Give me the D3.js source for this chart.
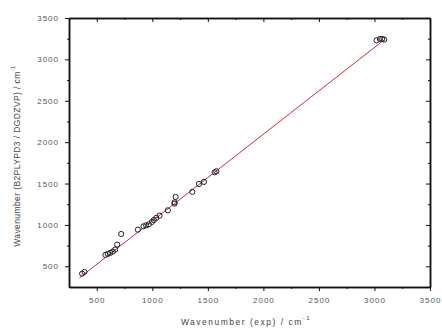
<!DOCTYPE html>
<html>
<head>
<meta charset="utf-8">
<script src="https://cdn.jsdelivr.net/npm/d3@7"></script>
<style>
    body { margin: 0; background: #fff; }
    svg { display: block; font-family: Arial, "Liberation Sans", sans-serif; }
    .tick text { fill: #555; font-size: 8px; letter-spacing: 1px; }
    .domain, .tick line { stroke: #111; }
    .title { fill: #444; font-size: 8.5px; letter-spacing: 1.5px; }
</style>
</head>
<body>
<svg id="chart"></svg>
<script>
const expWn = [368, 389, 578, 599, 621, 644, 666, 684, 720, 870, 921, 945, 969, 996, 1014, 1036, 1065,
    1140, 1200, 1210, 1200, 1360, 1420, 1465, 1561, 1577, 3019, 3049, 3070, 3088];
const calcWn = [412, 432, 638, 650, 662, 678, 702, 762, 891, 943, 983, 995, 1007, 1036, 1060, 1085, 1112,
    1176, 1257, 1338, 1273, 1399, 1495, 1520, 1636, 1648, 3230, 3247, 3247, 3239];

// linear fit (red line) end points
const fitX = [345, 3090];
const fitY = [362, 3238];

const majorTicks = [500, 1000, 1500, 2000, 2500, 3000, 3500];
const minorTicks = [750, 1250, 1750, 2250, 2750, 3250];

const W = 442, H = 331;
const m = { left: 69, right: 12, top: 18, bottom: 44 };

const svg = d3.select("#chart").attr("width", W).attr("height", H);

const x = d3.scaleLinear().domain([250, 3500]).range([m.left, W - m.right]);
const y = d3.scaleLinear().domain([250, 3500]).range([H - m.bottom, m.top]);
const fmt = d3.format("d");

// bottom + left: ticks outward with labels
svg.append("g")
    .attr("transform", "translate(0," + (H - m.bottom) + ")")
    .call(d3.axisBottom(x).tickValues(majorTicks).tickFormat(fmt).tickSize(4).tickPadding(6).tickSizeOuter(0));
svg.append("g")
    .attr("transform", "translate(0," + (H - m.bottom) + ")")
    .call(d3.axisBottom(x).tickValues(minorTicks).tickSize(2).tickFormat("").tickSizeOuter(0));
svg.append("g")
    .attr("transform", "translate(" + m.left + ",0)")
    .call(d3.axisLeft(y).tickValues(majorTicks).tickFormat(fmt).tickSize(4).tickPadding(6).tickSizeOuter(0));
svg.append("g")
    .attr("transform", "translate(" + m.left + ",0)")
    .call(d3.axisLeft(y).tickValues(minorTicks).tickSize(2).tickFormat("").tickSizeOuter(0));

// top + right: ticks inward, no labels
svg.append("g")
    .attr("transform", "translate(0," + m.top + ")")
    .call(d3.axisBottom(x).tickValues(majorTicks).tickSize(4).tickFormat("").tickSizeOuter(0));
svg.append("g")
    .attr("transform", "translate(0," + m.top + ")")
    .call(d3.axisBottom(x).tickValues(minorTicks).tickSize(2).tickFormat("").tickSizeOuter(0));
svg.append("g")
    .attr("transform", "translate(" + (W - m.right) + ",0)")
    .call(d3.axisLeft(y).tickValues(majorTicks).tickSize(4).tickFormat("").tickSizeOuter(0));
svg.append("g")
    .attr("transform", "translate(" + (W - m.right) + ",0)")
    .call(d3.axisLeft(y).tickValues(minorTicks).tickSize(2).tickFormat("").tickSizeOuter(0));

svg.selectAll(".domain").attr("stroke-width", 1.5);

// fit line
svg.append("line")
    .attr("x1", x(fitX[0])).attr("y1", y(fitY[0]))
    .attr("x2", x(fitX[1])).attr("y2", y(fitY[1]))
    .attr("stroke", "#d0283a")
    .attr("stroke-width", 1);

// data points
svg.selectAll("circle.pt")
    .data(expWn.map((d, i) => [d, calcWn[i]]))
    .join("circle")
    .attr("class", "pt")
    .attr("cx", d => x(d[0]))
    .attr("cy", d => y(d[1]))
    .attr("r", 2.6)
    .attr("fill", "none")
    .attr("stroke", "#222")
    .attr("stroke-width", 1);

// axis titles
const xt = svg.append("text")
    .attr("class", "title")
    .attr("text-anchor", "middle")
    .attr("x", 246)
    .attr("y", 325);
xt.append("tspan").text("Wavenumber (exp) / cm");
xt.append("tspan").attr("dy", -5).attr("font-size", "6px").text("-1");

const yt = svg.append("text")
    .attr("class", "title")
    .attr("text-anchor", "middle")
    .attr("transform", "translate(20," + 156 + ") rotate(-90)")
    .style("letter-spacing", "0.4px");
yt.append("tspan").text("Wavenumber (B2PLYPD3 / DGDZVP) / cm");
yt.append("tspan").attr("dy", -5).attr("font-size", "6px").text("-1");
</script>
</body>
</html>
